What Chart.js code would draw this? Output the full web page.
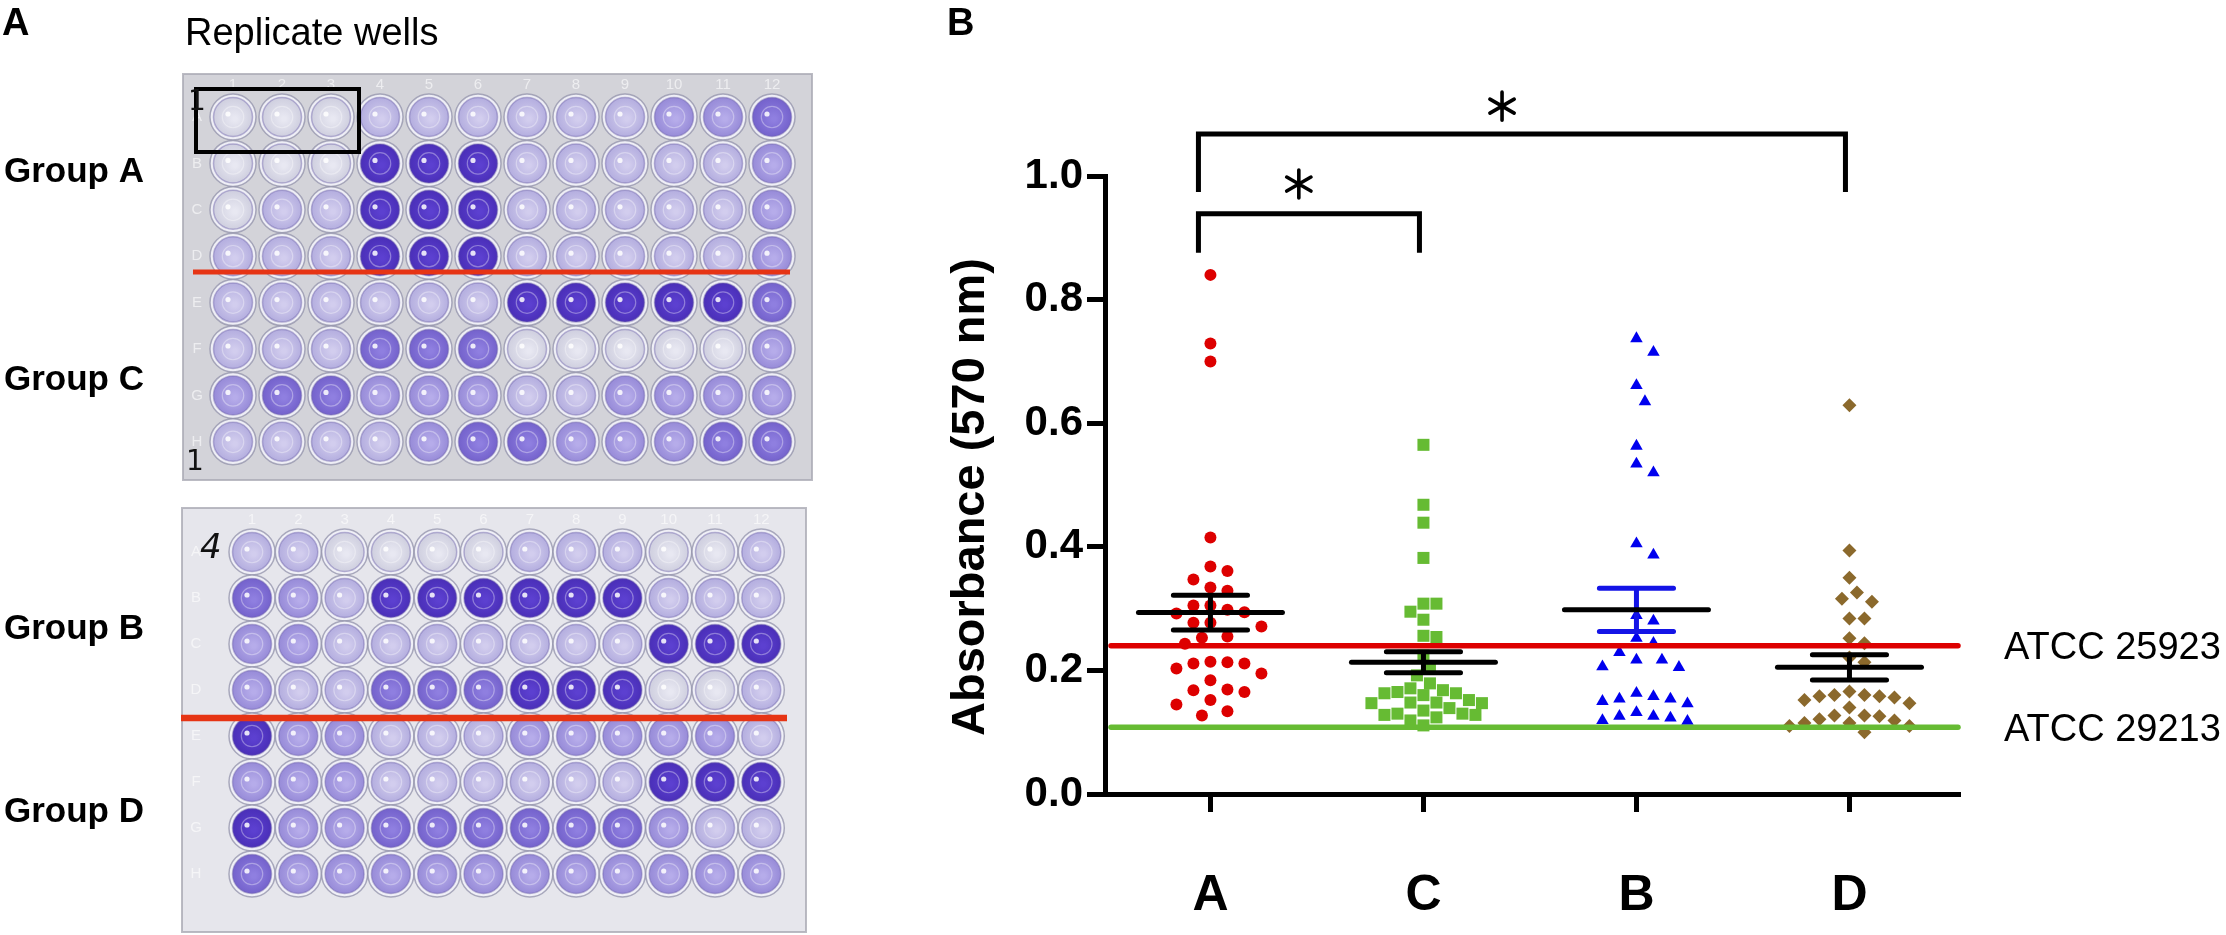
<!DOCTYPE html>
<html><head><meta charset="utf-8">
<script src="https://cdn.jsdelivr.net/npm/chart.js@4.4.0/dist/chart.umd.min.js"></script>
<style>
html,body{margin:0;padding:0;background:#fff;width:2226px;height:935px;overflow:hidden;}
#plates{position:absolute;left:0;top:0;}
#wrap{position:absolute;left:880px;top:0;width:1346px;height:935px;}
</style></head><body>
<canvas id="plates" width="880" height="935"></canvas>
<div id="wrap"><canvas id="chart"></canvas></div>
<script>
// ---------- data ----------
const categories = ['A', 'C', 'B', 'D'];
const groupA = [0.840,0.729,0.700,0.415,0.368,0.361,0.347,0.334,0.329,0.305,0.305,0.298,0.294,0.292,0.277,0.277,0.271,0.255,0.253,0.243,0.214,0.213,0.211,0.211,0.203,0.195,0.184,0.169,0.168,0.165,0.152,0.145,0.134,0.127];
const groupC = [0.565,0.468,0.439,0.382,0.308,0.308,0.295,0.282,0.256,0.254,0.224,0.205,0.192,0.179,0.171,0.168,0.165,0.163,0.163,0.160,0.152,0.148,0.148,0.147,0.147,0.139,0.135,0.130,0.130,0.128,0.128,0.124,0.119,0.111];
const groupB = [0.737,0.715,0.661,0.635,0.563,0.534,0.520,0.405,0.387,0.289,0.280,0.252,0.244,0.229,0.217,0.217,0.206,0.205,0.163,0.158,0.154,0.154,0.150,0.146,0.132,0.126,0.126,0.123,0.119,0.118];
const groupD = [0.629,0.394,0.350,0.326,0.316,0.311,0.284,0.284,0.252,0.244,0.221,0.213,0.166,0.160,0.160,0.158,0.158,0.156,0.152,0.147,0.140,0.127,0.127,0.126,0.121,0.119,0.115,0.115,0.110,0.110,0.100];
const means = [0.2935, 0.213, 0.298, 0.205];
const sems = [0.028, 0.017, 0.035, 0.0205];
const yTicks = [0, 0.2, 0.4, 0.6, 0.8, 1.0];
const refValues = [0.240, 0.108];
const refLabels = ['ATCC 25923', 'ATCC 29213'];
const bracketFrom = [0, 0];
const bracketTo = [1, 3];
const bracketTop = [0.939, 1.068];
const bracketFoot = [0.876, 0.974];
const starX = [0.415, 1.369];
const starY = [0.987, 1.113];
const plateLabels = ['Group A', 'Group C', 'Group B', 'Group D'];
const plate1Rows = ['000111111223','000444111112','011444111112','111444111112','111111444443','111333000002','233222112222','111123322233'];
const plate2Rows = ['110000111001','321444444111','221111111444','211333444001','422111222221','222111111444','422333333211','322222222222'];

// ---------- styles ----------
const FONT = '"Liberation Sans", Arial, Helvetica, sans-serif';
const groups = [groupA, groupC, groupB, groupD];
const colors = ['#dd0000', '#66bb33', '#0000ee', '#8b692c'];
const pStyles = ['circle', 'rect', 'triangle', 'rectRot'];
const pRadii = [6, 8.5, 7.2, 7];
const swarmD = [17, 13, 17, 15];
const semColors = ['#000', '#000', '#1414e6', '#000'];
const refColors = ['#dd0000', '#66bb33'];

// ---------- left panel (plates) ----------
(function drawPlates(){
  const c = document.getElementById('plates');
  const ctx = c.getContext('2d');
  ctx.fillStyle = '#fff'; ctx.fillRect(0,0,880,935);
  const inner = ['#e8e8f2','#d2cdee','#b6acea','#8f7fe0','#5c40d0'];
  const outer = ['#cfcfdf','#b4aedf','#978bd8','#7462cc','#4a2fb8'];
  function plate(x0,y0,x1,y1,bg,cx0,cy0,dx,dy,rows,r){
    ctx.fillStyle = bg; ctx.fillRect(x0,y0,x1-x0,y1-y0);
    ctx.strokeStyle = 'rgba(170,170,180,0.8)'; ctx.lineWidth = 2; ctx.strokeRect(x0,y0,x1-x0,y1-y0);
    ctx.fillStyle = 'rgba(255,255,255,0.6)';
    ctx.font = '15px ' + FONT; ctx.textAlign = 'center'; ctx.textBaseline = 'middle';
    for (let j=0;j<12;j++) ctx.fillText(String(j+1), cx0 + j*dx, cy0 - dy*0.7);
    const letters = 'ABCDEFGH';
    for (let i=0;i<8;i++) ctx.fillText(letters[i], x0 + 14, cy0 + i*dy);
    for (let i=0;i<8;i++){
      for (let j=0;j<12;j++){
        const lv = +rows[i][j];
        const x = cx0 + j*dx, y = cy0 + i*dy;
        ctx.beginPath(); ctx.arc(x,y,r+3.5,0,2*Math.PI);
        ctx.fillStyle = 'rgba(240,240,248,0.95)'; ctx.fill();
        ctx.lineWidth = 1.5; ctx.strokeStyle = 'rgba(140,140,165,0.7)'; ctx.stroke();
        const g = ctx.createRadialGradient(x+2,y+2,2,x,y,r);
        g.addColorStop(0, inner[lv]); g.addColorStop(1, outer[lv]);
        ctx.beginPath(); ctx.arc(x,y,r,0,2*Math.PI); ctx.fillStyle = g; ctx.fill();
        ctx.lineWidth = 1.5; ctx.strokeStyle = 'rgba(110,100,170,0.45)'; ctx.stroke();
        ctx.beginPath(); ctx.arc(x,y,r*0.55,0,2*Math.PI);
        ctx.strokeStyle = 'rgba(255,255,255,0.35)'; ctx.lineWidth = 1.2; ctx.stroke();
        ctx.beginPath(); ctx.arc(x-5,y-3,2.6,0,2*Math.PI); ctx.fillStyle = 'rgba(255,255,255,0.85)'; ctx.fill();
      }
    }
  }
  plate(183,74,812,480,'#d3d3d9',233,117,49,46.4,plate1Rows,19.5);
  plate(182,508,806,932,'#e6e6ec',252,552,46.3,46,plate2Rows,19.5);
  ctx.strokeStyle = '#000'; ctx.lineWidth = 4; ctx.strokeRect(196,89,163,63);
  ctx.strokeStyle = '#e63414'; ctx.lineWidth = 5;
  ctx.beginPath(); ctx.moveTo(193,272); ctx.lineTo(790,272); ctx.stroke();
  ctx.lineWidth = 6.5;
  ctx.beginPath(); ctx.moveTo(181,718); ctx.lineTo(787,718); ctx.stroke();
  ctx.fillStyle = '#111'; ctx.font = 'italic 34px "DejaVu Sans", sans-serif';
  ctx.textAlign = 'left'; ctx.textBaseline = 'alphabetic';
  ctx.fillText('4', 200, 558);
  ctx.font = '28px "DejaVu Sans", sans-serif'; ctx.fillText('1', 188, 110); ctx.fillText('1', 186, 470);
  ctx.fillStyle = '#000';
  ctx.font = 'bold 38px ' + FONT; ctx.fillText('A', 2, 35);
  ctx.font = '38px ' + FONT; ctx.fillText('Replicate wells', 185, 45);
  ctx.font = 'bold 35px ' + FONT; ctx.textBaseline = 'middle';
  const gy = [172, 380, 629, 812];
  plateLabels.forEach((t,i)=>ctx.fillText(t, 4, gy[i]));
})();

// ---------- chart ----------
const datasets = groups.map((g,i)=>({
  type: 'scatter',
  data: g.map(v=>({x:i, y:v})),
  pointStyle: pStyles[i],
  pointRadius: pRadii[i],
  pointHoverRadius: pRadii[i],
  pointBackgroundColor: colors[i],
  pointBorderColor: colors[i],
  pointBorderWidth: 0
}));

const overlay = {
  id: 'overlay',
  afterDatasetsDraw(chart){
    const ctx = chart.ctx, xs = chart.scales.x, ys = chart.scales.y, ca = chart.chartArea;
    ctx.save();
    refValues.forEach((v,i)=>{
      const y = ys.getPixelForValue(v);
      ctx.strokeStyle = refColors[i]; ctx.lineWidth = 5.5; ctx.lineCap = 'round';
      ctx.beginPath(); ctx.moveTo(ca.left + 6, y); ctx.lineTo(ca.right - 2, y); ctx.stroke();
      ctx.fillStyle = '#000'; ctx.font = '38px ' + FONT; ctx.textAlign = 'left'; ctx.textBaseline = 'middle';
      ctx.fillText(refLabels[i], ca.right + 44, y + 3);
    });
    const unit = xs.getPixelForValue(1) - xs.getPixelForValue(0);
    means.forEach((m,i)=>{
      const cx = xs.getPixelForValue(i);
      const ym = ys.getPixelForValue(m), yu = ys.getPixelForValue(m + sems[i]), yl = ys.getPixelForValue(m - sems[i]);
      const hw = 0.338*unit, cw = 0.174*unit;
      ctx.lineCap = 'round'; ctx.lineWidth = 5; ctx.strokeStyle = semColors[i];
      ctx.beginPath();
      ctx.moveTo(cx - cw, yu); ctx.lineTo(cx + cw, yu);
      ctx.moveTo(cx - cw, yl); ctx.lineTo(cx + cw, yl);
      ctx.moveTo(cx, yu); ctx.lineTo(cx, yl);
      ctx.stroke();
      ctx.strokeStyle = '#000';
      ctx.beginPath(); ctx.moveTo(cx - hw, ym); ctx.lineTo(cx + hw, ym); ctx.stroke();
    });
    ctx.lineCap = 'butt'; ctx.lineJoin = 'miter'; ctx.strokeStyle = '#000'; ctx.lineWidth = 5;
    bracketFrom.forEach((f,i)=>{
      const xl = xs.getPixelForValue(f) - 12, xr = xs.getPixelForValue(bracketTo[i]) - 4;
      const yt = ys.getPixelForValue(bracketTop[i]), yb = ys.getPixelForValue(bracketFoot[i]);
      ctx.beginPath(); ctx.moveTo(xl, yb); ctx.lineTo(xl, yt); ctx.lineTo(xr, yt); ctx.lineTo(xr, yb); ctx.stroke();
      const sx = xs.getPixelForValue(starX[i]), sy = ys.getPixelForValue(starY[i]);
      ctx.lineWidth = 3.6; ctx.lineCap = 'round';
      ctx.beginPath();
      for (let k=0;k<3;k++){
        const a = Math.PI/2 + k*Math.PI/3;
        ctx.moveTo(sx + Math.cos(a)*14, sy - Math.sin(a)*14);
        ctx.lineTo(sx - Math.cos(a)*14, sy + Math.sin(a)*14);
      }
      ctx.stroke();
      ctx.lineWidth = 5; ctx.lineCap = 'butt';
    });
    ctx.fillStyle = '#000'; ctx.textAlign = 'left'; ctx.textBaseline = 'alphabetic';
    ctx.font = 'bold 38px ' + FONT; ctx.fillText('B', 67, 35);
    ctx.save();
    ctx.translate(104, 497); ctx.rotate(-Math.PI/2);
    ctx.textAlign = 'center'; ctx.font = 'bold 47px ' + FONT;
    ctx.fillText('Absorbance (570 nm)', 0, 0);
    ctx.restore();
    ctx.restore();
  }
};

const chart = new Chart(document.getElementById('chart'), {
  type: 'scatter',
  data: { datasets },
  plugins: [overlay],
  options: {
    responsive: true, maintainAspectRatio: false, animation: false, events: [],
    layout: { padding: { left: 0, top: 176, right: 266, bottom: 0 } },
    plugins: { legend: { display: false }, tooltip: { enabled: false } },
    scales: {
      x: {
        type: 'linear', min: -0.495, max: 3.519,
        afterBuildTicks: s => { s.ticks = categories.map((c,i)=>({ value: i })); },
        afterFit: s => { s.height = 141; },
        border: { display: true, width: 5, color: '#000' },
        grid: { drawOnChartArea: false, drawTicks: true, tickLength: 18, tickWidth: 5, tickColor: '#000', color: '#000' },
        ticks: { callback: v => categories[v], font: { family: FONT, size: 50, weight: 'bold' }, color: '#000', padding: 54, maxRotation: 0, autoSkip: false }
      },
      y: {
        min: 0, max: 1,
        afterBuildTicks: s => { s.ticks = yTicks.map(v=>({ value: v })); },
        afterFit: s => { s.width = 225; },
        border: { display: true, width: 5, color: '#000' },
        grid: { drawOnChartArea: false, drawTicks: true, tickLength: 18, tickWidth: 5, tickColor: '#000', color: '#000' },
        ticks: { callback: v => Number(v).toFixed(1), font: { family: FONT, size: 42, weight: 'bold' }, color: '#000', padding: 4 }
      }
    }
  }
});

// beeswarm arrangement computed from values through the chart's scales
(function swarm(){
  const xs = chart.scales.x, ys = chart.scales.y;
  const unit = xs.getPixelForValue(1) - xs.getPixelForValue(0);
  groups.forEach((g,i)=>{
    const d = swarmD[i], step = d/2, placed = [];
    const order = g.map((v,k)=>k).sort((a,b)=>g[b]-g[a]);
    order.forEach(k=>{
      const py = ys.getPixelForValue(g[k]);
      for (let n=0;n<60;n++){
        const off = n===0 ? 0 : (n%2 ? 1 : -1) * Math.ceil(n/2) * step;
        if (placed.every(p => (p.x-off)*(p.x-off) + (p.y-py)*(p.y-py) >= d*d)) {
          placed.push({x:off, y:py});
          chart.data.datasets[i].data[k].x = i + off/unit;
          break;
        }
      }
    });
  });
  chart.update('none');
})();
</script>
</body></html>
